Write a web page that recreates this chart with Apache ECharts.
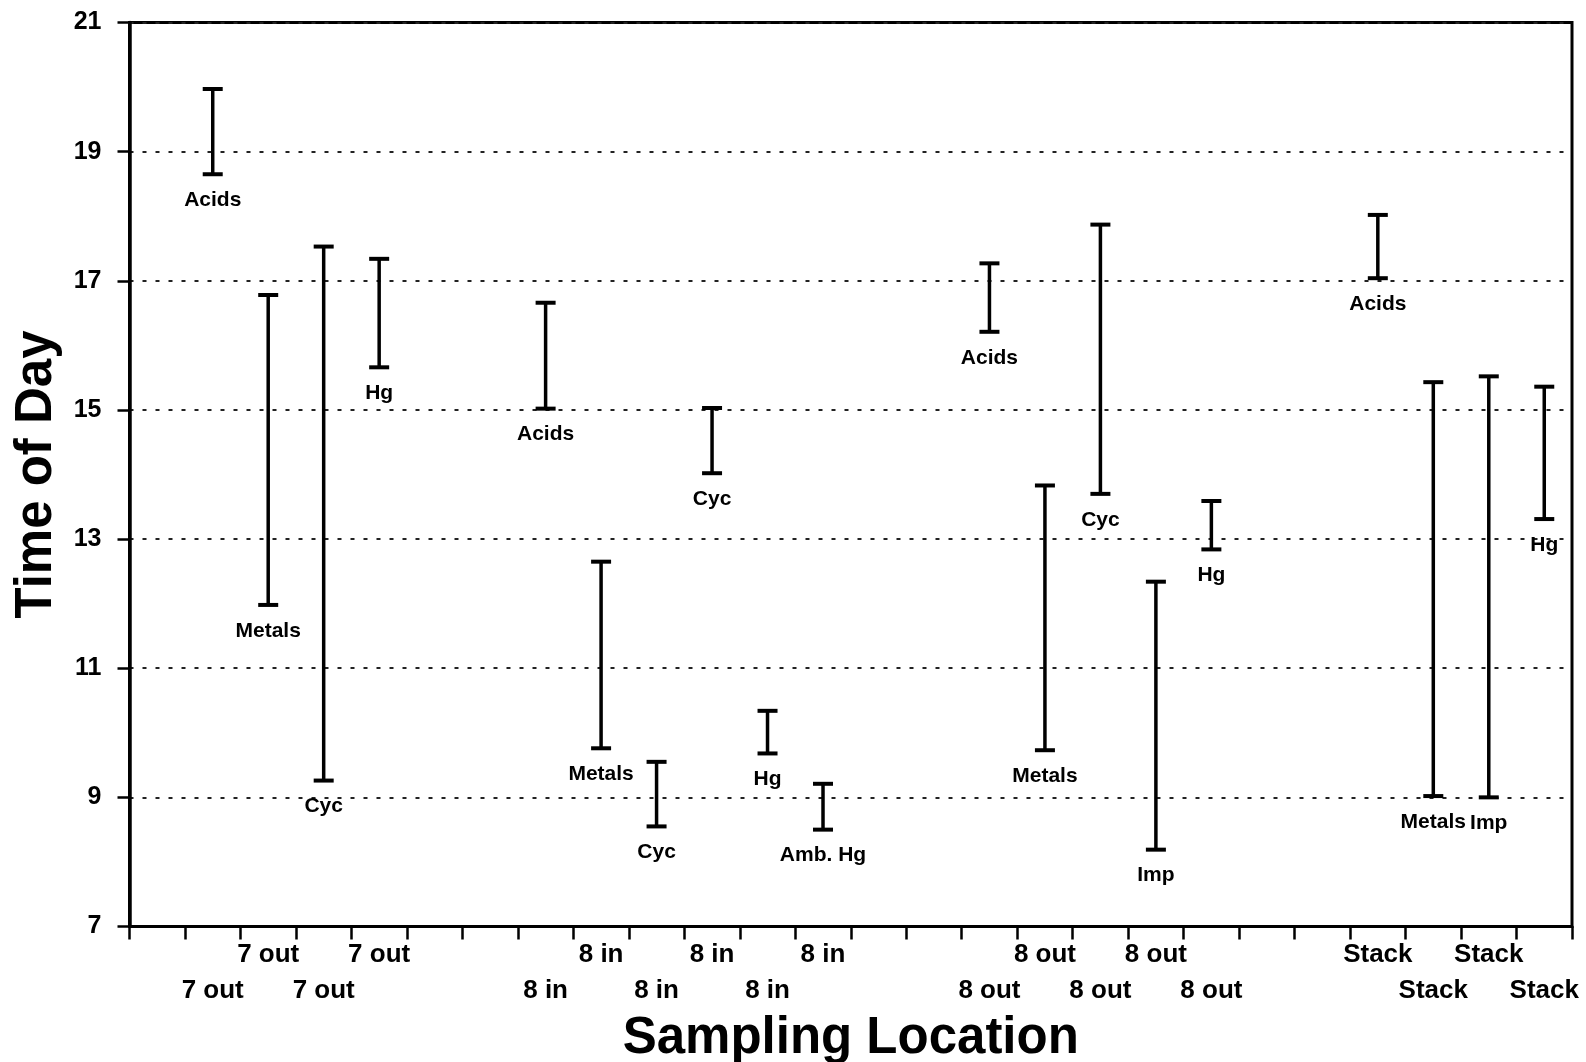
<!DOCTYPE html>
<html>
<head>
<meta charset="utf-8">
<script src="https://cdn.jsdelivr.net/npm/echarts@6/dist/echarts.min.js"></script>
<style>
  html, body { margin: 0; padding: 0; background: #fff; }
  #chart { width: 1586px; height: 1062px; }
</style>
</head>
<body>
<div id="chart"></div>
<script>
// X-axis tick labels (one per category slot; blanks are empty slots)
const categories = ['', '7 out', '7 out', '7 out', '7 out', '', '',
  '8 in', '8 in', '8 in', '8 in', '8 in', '8 in', '', '',
  '8 out', '8 out', '8 out', '8 out', '8 out', '', '',
  'Stack', 'Stack', 'Stack', 'Stack'];
// Y-axis ticks
const yTicks = [7, 9, 11, 13, 15, 17, 19, 21];
// Sampling runs
const analytes   = ['Acids', 'Metals', 'Cyc', 'Hg', 'Acids', 'Metals', 'Cyc', 'Cyc', 'Hg', 'Amb. Hg',
                    'Acids', 'Metals', 'Cyc', 'Imp', 'Hg', 'Acids', 'Metals', 'Imp', 'Hg'];
const slot       = [1, 2, 3, 4, 7, 8, 9, 10, 11, 12, 15, 16, 17, 18, 19, 22, 23, 24, 25];
const startTimes = [18.65, 11.98, 9.26, 15.66, 15.02, 9.76, 8.55, 14.02, 9.68, 8.50,
                    16.21, 9.73, 13.70, 8.19, 12.84, 17.04, 9.02, 9.00, 13.31];
const endTimes   = [19.97, 16.78, 17.53, 17.34, 16.66, 12.65, 9.55, 15.03, 10.34, 9.21,
                    17.27, 13.83, 17.87, 12.34, 13.59, 18.02, 15.43, 15.52, 15.36];

const FONT = '"Liberation Sans", Arial, Helvetica, sans-serif';
const chart = echarts.init(document.getElementById('chart'), null, { renderer: 'canvas' });

const seriesData = analytes.map((a, i) => [slot[i], startTimes[i], endTimes[i], a]);

function renderItem(params, api) {
  const x = api.value(0);
  const lo = api.coord([x, api.value(1)]);
  const hi = api.coord([x, api.value(2)]);
  const label = seriesData[params.dataIndex][3];
  const half = 10;
  const stroke = '#000';
  return {
    type: 'group',
    children: [
      { type: 'line', shape: { x1: hi[0], y1: hi[1], x2: lo[0], y2: lo[1] },
        style: { stroke, lineWidth: 3.5 } },
      { type: 'line', shape: { x1: hi[0] - half, y1: hi[1], x2: hi[0] + half, y2: hi[1] },
        style: { stroke, lineWidth: 4 } },
      { type: 'line', shape: { x1: lo[0] - half, y1: lo[1], x2: lo[0] + half, y2: lo[1] },
        style: { stroke, lineWidth: 4 } },
      { type: 'text', x: lo[0], y: lo[1] + 26,
        style: { text: label, align: 'center', verticalAlign: 'middle',
                 fill: '#000', font: 'bold 21px ' + FONT } }
    ]
  };
}

chart.setOption({
  animation: false,
  backgroundColor: '#fff',
  grid: {
    left: 129.5, right: 14, top: 22.5, bottom: 135.5,
    show: true, borderColor: '#000', borderWidth: 3,
    containLabel: false, outerBoundsMode: 'none'
  },
  xAxis: {
    type: 'category',
    data: categories,
    boundaryGap: true,
    name: 'Sampling Location',
    nameLocation: 'middle',
    nameGap: 80,
    nameTextStyle: { fontSize: 51, fontWeight: 'bold', fontFamily: FONT, color: '#000' },
    axisLine: { show: true, lineStyle: { color: '#000', width: 3 } },
    axisTick: { show: true, interval: 0, length: 13, alignWithLabel: false,
                lineStyle: { color: '#000', width: 2.5 } },
    axisLabel: {
      interval: 0, margin: 10.5, color: '#000', fontSize: 26, fontWeight: 'bold',
      fontFamily: FONT, lineHeight: 36, hideOverlap: false,
      formatter: (v, idx) => (idx % 2 === 1 ? '\n' + v : v)
    },
    splitLine: { show: false }
  },
  yAxis: {
    type: 'value',
    min: yTicks[0], max: yTicks[yTicks.length - 1], interval: 2,
    name: 'Time of Day',
    nameLocation: 'middle',
    nameGap: 62,
    nameTextStyle: { fontSize: 51, fontWeight: 'bold', fontFamily: FONT, color: '#000' },
    axisLine: { show: true, lineStyle: { color: '#000', width: 3.5 } },
    axisTick: { show: true, length: 12, lineStyle: { color: '#000', width: 2.5 } },
    axisLabel: { margin: 28, color: '#000', fontSize: 25, fontWeight: 'bold', fontFamily: FONT },
    splitLine: { show: true, lineStyle: { color: '#222', width: 2, type: [4, 9] } }
  },
  series: [{
    type: 'custom',
    renderItem,
    data: seriesData.map(d => [d[0], d[1], d[2]]),
    encode: { x: 0, y: [1, 2] },
    clip: false
  }]
});
</script>
</body>
</html>
